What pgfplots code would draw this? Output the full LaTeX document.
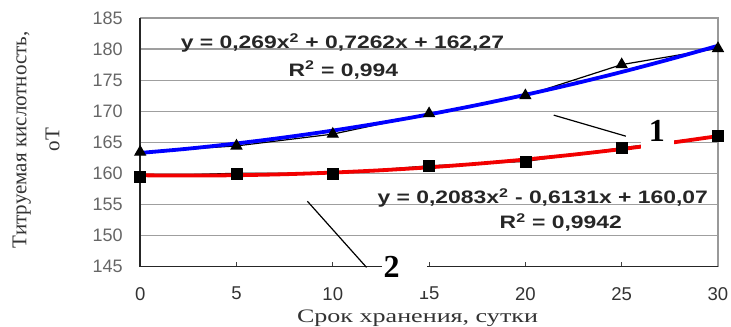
\documentclass[border=0pt]{standalone}
\usepackage{fontspec}
\setmainfont{Liberation Serif}
\setsansfont{Liberation Sans}
\usepackage{graphicx}
\usepackage{pgfplots}
\pgfplotsset{compat=1.18}
\newcommand{\eqfont}{\sffamily\bfseries\fontsize{18}{20}\selectfont}
\begin{document}
\begin{tikzpicture}
\begin{axis}[name=ax, width=577pt, height=248pt, scale only axis,
  xmin=0, xmax=30, ymin=145, ymax=185,
  xtick={0,5,...,30}, ytick={145,150,...,185},
  ymajorgrids, grid style={draw=gray!75, line width=1.2pt},
  axis line style={draw=gray!80, line width=1.2pt},
  tick align=inside, xtick pos=lower, ytick pos=left,
  ytick style={draw=none},
  xtick style={draw=gray!50!black, line width=1pt},
  major tick length=4pt,
  /pgf/number format/assume math mode=true,
  xticklabel style={font=\sffamily\fontsize{18.5}{18.5}\selectfont, text=black!80, inner sep=1pt, yshift=-19.5pt},
  yticklabel style={font=\sffamily\fontsize{18}{18}\selectfont, text=black!60, xshift=-14pt},
  xlabel={\scalebox{1.37}[1]{Срок хранения, сутки}},
  ylabel={Титруемая кислотность,\\оТ},
  xlabel style={at={(axis description cs:0.480,-0.2246)}, anchor=base, inner sep=0pt,
    font=\fontsize{19}{19}\selectfont, text=black!80},
  ylabel style={at={(axis description cs:-0.180,0.510)}, anchor=center,
    align=center, font=\fontsize{21}{33}\selectfont, text=black!80},
  clip=false]
% series 1 data (black, triangles)
\addplot[black, line width=1.2pt, mark=triangle*, mark size=6pt, mark options={solid}]
  coordinates {(0,163.4) (5,164.4) (10,166.3) (15,169.6) (20,172.5) (25,177.5) (30,180.1)};
% series 1 trend line
\addplot[blue, line width=3.8pt, smooth]
  coordinates {(0,163.27) (2.5,163.96) (5,164.80) (7.5,165.77) (10,166.87) (12.5,168.11)
  (15,169.48) (17.5,170.99) (20,172.63) (22.5,174.40) (25,176.31) (27.5,178.36) (30,180.53)};
% series 2 data line (black)
\addplot[black, line width=1.2pt]
  coordinates {(0,159.5) (5,160.0) (10,160.0) (15,161.2) (20,161.9) (25,164.1) (30,166.0)};
% series 2 trend line
\addplot[red!95!black, line width=3.8pt, smooth]
  coordinates {(0,159.67) (2.5,159.62) (5,159.68) (7.5,159.84) (10,160.11) (12.5,160.48)
  (15,160.95) (17.5,161.53) (20,162.21) (22.5,163.00) (25,163.89) (27.5,164.89) (30,165.98)};
% series 2 markers
\addplot[black, only marks, mark=square*, mark size=5.5pt]
  coordinates {(0,159.5) (5,160.0) (10,160.0) (15,161.2) (20,161.9) (25,164.1) (30,166.0)};
% dark left and bottom axis lines
\draw[black!85, line width=1.5pt] (rel axis cs:0,1) -- (rel axis cs:0,0) -- (rel axis cs:1,0);
% trend equations
\node[text=black!85] at (axis cs:10.50,180.97) {\scalebox{1.27}[1]{\eqfont y = 0,269x\textsuperscript{2} + 0,7262x + 162,27}};
\node[text=black!85] at (axis cs:10.55,176.61) {\scalebox{1.27}[1]{\eqfont R\textsuperscript{2} = 0,994}};
\node[text=black!85] at (axis cs:20.90,155.97) {\scalebox{1.27}[1]{\eqfont y = 0,2083x\textsuperscript{2} - 0,6131x + 160,07}};
\node[text=black!85] at (axis cs:21.84,152.10) {\scalebox{1.27}[1]{\eqfont R\textsuperscript{2} = 0,9942}};
\end{axis}
% curve labels 1 and 2 with leader lines
\draw[black, line width=1.2pt] ([shift={(413pt,151pt)}]ax.south west) -- ([shift={(485pt,130pt)}]ax.south west);
\fill[white] ([shift={(500pt,116pt)}]ax.south west) rectangle ([shift={(533pt,154pt)}]ax.south west);
\node[font=\bfseries\fontsize{32}{32}\selectfont, inner sep=0pt] at ([shift={(516pt,135pt)}]ax.south west) {1};
\draw[black, line width=1.2pt] ([shift={(167pt,65pt)}]ax.south west) -- ([shift={(226pt,-1pt)}]ax.south west);
\fill[white] ([shift={(241pt,-25pt)}]ax.south west) rectangle ([shift={(286pt,16pt)}]ax.south west);
\node[font=\bfseries\fontsize{32}{32}\selectfont, inner sep=0pt] at ([shift={(251pt,-1pt)}]ax.south west) {2};
\pgfresetboundingbox
\path[use as bounding box] ([shift={(-140pt,-60pt)}]ax.south west) rectangle ([shift={(13pt,18pt)}]ax.north east);
\end{tikzpicture}
\end{document}
